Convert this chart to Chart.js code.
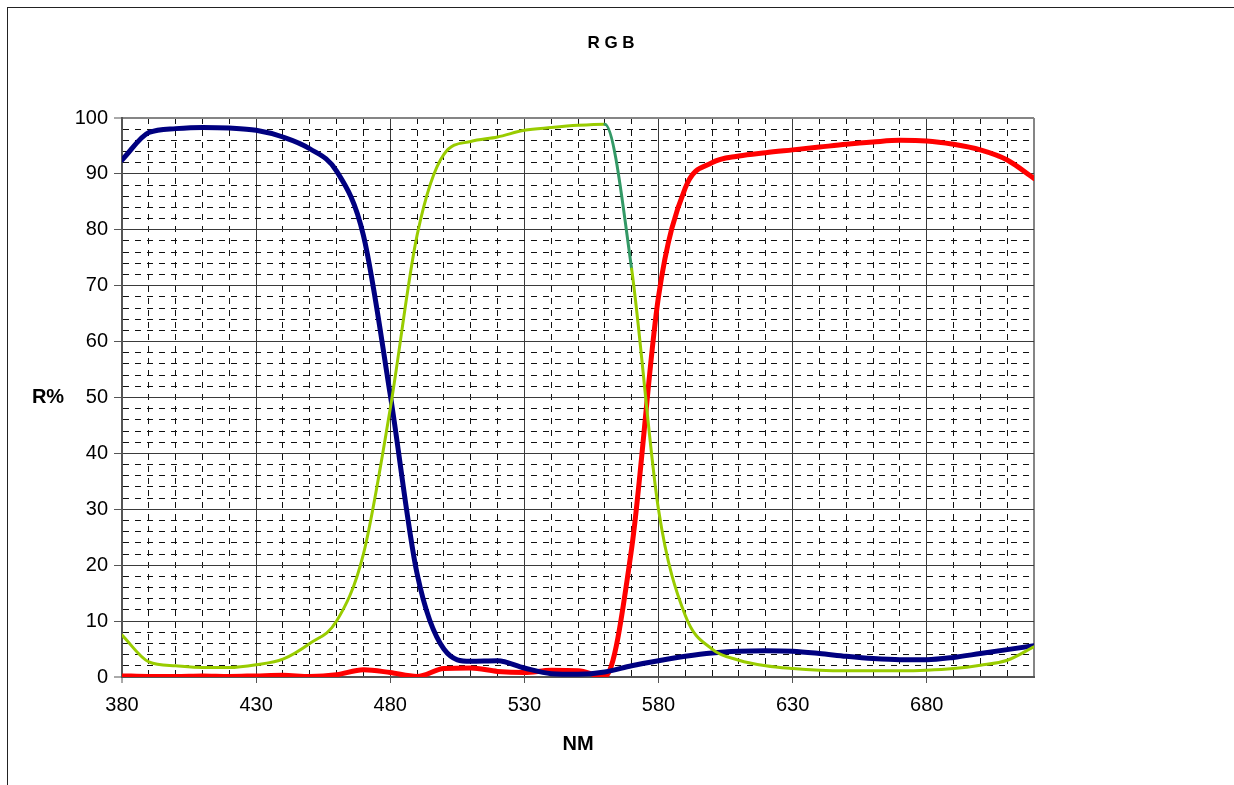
<!DOCTYPE html>
<html>
<head>
<meta charset="utf-8">
<title>R G B</title>
<script src="https://cdn.jsdelivr.net/npm/chart.js@4.4.1/dist/chart.umd.min.js"></script>
<style>
  html, body { margin: 0; padding: 0; background: #fff; overflow: hidden; }
  #wrap { position: relative; width: 1234px; height: 785px; }
  #frame { position: absolute; left: 7px; top: 7px; width: 1300px; height: 900px; border: 1px solid #222; box-sizing: border-box; }
  #rgbChart { position: absolute; left: 0; top: 0; }
</style>
</head>
<body>
<div id="wrap">
  <div id="frame"></div>
  <canvas id="rgbChart" width="1234" height="785"></canvas>
</div>
<script>
// Longueurs d'onde (nm) et réflexion (%) des trois filtres
const wavelengths = [380, 390, 400, 410, 420, 430, 440, 450, 460, 470, 480, 490, 500, 510, 520, 530, 540,
                     550, 560, 570, 580, 590, 600, 610, 620, 630, 640, 650, 660, 670, 680, 690, 700, 710, 720];

const blueValues = [92.5, 97.4, 98.1, 98.3, 98.2, 97.8, 96.6, 94.5, 90.5, 79, 50.5, 18.5, 5, 2.8, 2.9, 1.6, 0.6,
                    0.5, 0.9, 2.0, 2.9, 3.7, 4.3, 4.6, 4.7, 4.6, 4.2, 3.7, 3.3, 3.1, 3.1, 3.5, 4.2, 4.9, 5.6];

const greenValues = [7.5, 2.7, 2.0, 1.7, 1.7, 2.2, 3.2, 6.0, 10, 22, 48, 79, 93.5, 95.8, 96.6, 97.8, 98.3,
                     98.7, 98.9, 73, 30, 11, 5, 3.0, 2.0, 1.5, 1.2, 1.1, 1.1, 1.1, 1.2, 1.5, 2.1, 3.0, 5.4];

const redValues = [0.2, 0.1, 0.1, 0.2, 0.1, 0.2, 0.3, 0.1, 0.4, 1.3, 0.8, 0.1, 1.5, 1.6, 1.0, 0.8, 1.2,
                   1.1, 0.1, 23, 68, 87.5, 92, 93.2, 93.8, 94.3, 94.8, 95.3, 95.7, 96, 95.9, 95.3, 94.3, 92.5, 89.2];

// Graduations : étiquettes tous les 50 nm / 10 %, quadrillage secondaire tous les 10 nm / 2 %
const xLabelTicks = [380, 430, 480, 530, 580, 630, 680];
const xGridTicks = wavelengths;
const yLabelTicks = [0, 10, 20, 30, 40, 50, 60, 70, 80, 90, 100];
const yGridTicks = [];
for (let v = 0; v <= 100; v += 2) yGridTicks.push(v);

const chartTitle = 'R G B';
const xTitle = 'NM';
const yTitle = 'R%';

const FONT = '"Liberation Sans", Arial, sans-serif';

function toPoints(values) {
    return wavelengths.map((x, i) => ({ x: x, y: values[i] }));
}

// Lignes du quadrillage : principales pleines, secondaires en tirets, bords gris
function gridStyle(labelTicks, minV, maxV) {
    return {
        color: (c) => {
            if (!c.tick) return '#000';
            const v = c.tick.value;
            if (v === maxV) return '#858585';
            if (v === minV) return '#555';
            return labelTicks.includes(v) ? '#3a3a3a' : '#111';
        },
        lineWidth: (c) => {
            if (!c.tick) return 1;
            const v = c.tick.value;
            return (v === maxV || v === minV) ? 2 : 1;
        },
        tickColor: (c) => (c.tick && labelTicks.includes(c.tick.value)) ? '#555' : 'rgba(0,0,0,0)',
        tickWidth: 1
    };
}

function borderStyle(labelTicks, minV, maxV) {
    return {
        display: true,
        color: '#555',
        width: 2,
        dash: (c) => {
            if (!c.tick) return [];
            const v = c.tick.value;
            if (v === minV || v === maxV || labelTicks.includes(v)) return [];
            return [6, 6];
        }
    };
}

// Titre du graphique et titre vertical posé à l'horizontale
const extraText = {
    id: 'extraText',
    afterDraw(chart) {
        const ctx = chart.ctx;
        const yScale = chart.scales.y;
        ctx.save();
        ctx.fillStyle = '#000';
        ctx.textAlign = 'center';
        ctx.textBaseline = 'middle';
        ctx.font = 'bold 17px ' + FONT;
        ctx.fillText(chartTitle, 611, 43);
        ctx.font = 'bold 20px ' + FONT;
        ctx.fillText(yTitle, 48, yScale.getPixelForValue(50));
        ctx.restore();
    }
};

const ctx = document.getElementById('rgbChart').getContext('2d');
const rgbChart = new Chart(ctx, {
    type: 'line',
    data: {
        datasets: [
            {
                label: 'G',
                data: toPoints(greenValues),
                borderColor: '#99cc00',
                borderWidth: 3,
                segment: {
                    borderColor: (c) => c.p0.parsed.x === 560 ? '#339966' : undefined
                }
            },
            {
                label: 'B',
                data: toPoints(blueValues),
                borderColor: '#000080',
                borderWidth: 5
            },
            {
                label: 'R',
                data: toPoints(redValues),
                borderColor: '#ff0000',
                borderWidth: 5
            }
        ]
    },
    options: {
        responsive: false,
        animation: false,
        devicePixelRatio: 1,
        layout: {
            padding: { left: 0, right: 200, top: 118, bottom: 0 }
        },
        elements: {
            point: { radius: 0, hoverRadius: 0 },
            line: {
                cubicInterpolationMode: 'monotone',
                fill: false,
                borderCapStyle: 'round',
                borderJoinStyle: 'round'
            }
        },
        plugins: {
            legend: { display: false },
            title: { display: false },
            tooltip: { enabled: false }
        },
        scales: {
            x: {
                type: 'linear',
                min: 380,
                max: 720,
                afterBuildTicks: (scale) => {
                    scale.ticks = xGridTicks.map(v => ({ value: v }));
                },
                afterFit: (scale) => { scale.height = 108; },
                ticks: {
                    autoSkip: false,
                    maxRotation: 0,
                    padding: 10,
                    color: '#000',
                    font: { family: FONT, size: 20 },
                    callback: (v) => xLabelTicks.includes(v) ? String(v) : ''
                },
                grid: Object.assign({ tickLength: 6 }, gridStyle(xLabelTicks, 380, 720)),
                border: borderStyle(xLabelTicks, 380, 720),
                title: {
                    display: true,
                    text: xTitle,
                    color: '#000',
                    font: { family: FONT, size: 20, weight: 'bold' },
                    padding: { top: 0, bottom: 29 }
                }
            },
            y: {
                type: 'linear',
                min: 0,
                max: 100,
                afterBuildTicks: (scale) => {
                    scale.ticks = yGridTicks.map(v => ({ value: v }));
                },
                afterFit: (scale) => { scale.width = 122; },
                ticks: {
                    autoSkip: false,
                    padding: 6,
                    color: '#000',
                    font: { family: FONT, size: 20 },
                    callback: (v) => yLabelTicks.includes(v) ? String(v) : ''
                },
                grid: Object.assign({ tickLength: 8 }, gridStyle(yLabelTicks, 0, 100)),
                border: borderStyle(yLabelTicks, 0, 100)
            }
        }
    },
    plugins: [extraText]
});
</script>
</body>
</html>
